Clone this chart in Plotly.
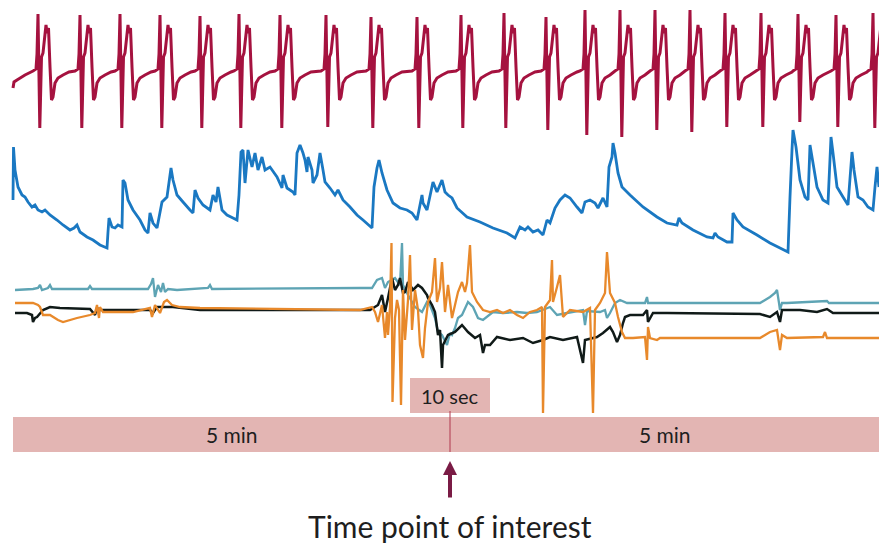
import plotly.graph_objects as go

# ---------------- DATA ----------------
# x values are sample indices of the recording (event / time point of interest at sample 450)
EVENT_SAMPLE = 450
WINDOW_START = 13
WINDOW_END = 887

# ECG: beat positions (sample index of R spike), per-beat R peak and S trough amplitude
ecg_beats = [39, 81, 121, 161, 201, 240, 281, 327, 372, 418, 462, 505, 547, 586,
             621, 656, 691, 726, 762, 799, 837, 874]
ecg_r_peak = [58, 57, 58, 57, 56, 58, 57, 57, 55, 55, 57, 59, 55, 62,
              62, 62, 62, 59, 59, 58, 57, 59]
ecg_s_trough = [-56, -56, -56, -56, -56, -56, -56, -55, -56, -56, -56, -56, -58, -63,
                -65, -58, -60, -55, -55, -50, -55, -56]
# beat waveform read from one complex (offset from R spike, amplitude); "R"/"S" = per-beat value
ecg_shape_dx = [-6, -3, -2, -1, 0.8, 2.5, 4, 7, 8, 9.5, 11, 12.5, 14, 16, 19, 24, 30]
ecg_shape_v = [1, 3, 18, "R", "S", 15, 19, 47, 39, 44, 5, -28, -25, -11, -6, -3, 0]
ecg_lead_x = [13, 14, 17, 25]
ecg_lead_v = [-16, -10, -8, -3]

# Calcium-like fluorescence trace (blue)
blue_x = [13, 13.5, 15, 18, 22, 25, 28, 32, 35, 38, 42, 45, 50, 57, 63, 70, 74, 77, 80, 87, 93, 100,
          107, 108, 109, 112, 115, 118, 122, 123, 125, 128, 133, 140, 145, 148, 150, 153, 157, 162,
          167, 171, 173, 177, 183, 190, 193, 195, 198, 203, 210, 213, 216, 218, 222, 227, 233, 237,
          239, 241, 243, 245, 248, 252, 255, 258, 262, 265, 270, 277, 282, 283, 287, 293, 295, 297,
          300, 303, 305, 307, 308, 312, 313, 317, 320, 323, 325, 330, 335, 338, 343, 350, 357, 363,
          372, 374, 377, 379, 382, 387, 393, 400, 407, 412, 417, 422, 423, 427, 433, 437, 442, 445,
          448, 452, 457, 467, 480, 493, 507, 515, 520, 525, 528, 533, 538, 543, 547, 550, 555, 560,
          565, 570, 577, 582, 585, 590, 595, 598, 603, 607, 609, 612, 613, 615, 618, 622, 630, 643,
          657, 667, 677, 679, 682, 693, 707, 713, 715, 718, 727, 732, 733, 737, 743, 757, 770, 780,
          788, 790, 792, 793, 796, 800, 805, 808, 810, 812, 817, 823, 828, 831, 833, 837, 843, 848,
          852, 854, 858, 863, 868, 873, 875, 877, 879]
blue_v = [50, 103, 80, 63, 55, 53, 48, 43, 45, 40, 38, 40, 35, 30, 25, 20, 22, 25, 18, 13, 10, 5,
          2, 18, 32, 23, 22, 25, 23, 70, 67, 50, 40, 30, 20, 17, 37, 27, 22, 48,
          53, 82, 70, 55, 48, 40, 37, 60, 52, 45, 40, 55, 48, 63, 40, 35, 32, 30,
          55, 98, 100, 67, 100, 83, 97, 80, 93, 80, 83, 73, 62, 75, 62, 58, 55, 97,
          105, 97, 90, 78, 93, 80, 67, 75, 97, 80, 68, 62, 55, 60, 50, 43, 35, 30,
          22, 63, 82, 90, 77, 60, 47, 42, 40, 37, 30, 55, 47, 40, 68, 58, 70, 58,
          55, 52, 42, 33, 28, 22, 17, 12, 23, 20, 23, 18, 20, 15, 30, 27, 42, 50,
          55, 52, 43, 37, 48, 50, 47, 42, 52, 43, 83, 93, 107, 97, 77, 63, 55, 43,
          33, 27, 25, 32, 27, 20, 13, 12, 17, 13, 8, 8, 37, 30, 23, 15, 7, 2,
          -2, 53, 100, 120, 103, 70, 53, 50, 105, 93, 63, 50, 47, 113, 97, 63, 53, 45,
          98, 80, 53, 50, 43, 40, 63, 83, 63]

# Movement / accelerometer channels
teal_x = [15, 33, 38, 40, 42, 48, 50, 52, 88, 90, 92, 148, 151, 153, 155, 158, 161, 163, 165, 168,
          177, 208, 210, 212, 360, 372, 377, 382, 385, 388, 395, 400, 402, 403, 408, 415, 422, 427,
          430, 435, 438, 442, 447, 450, 452, 455, 458, 462, 468, 473, 478, 483, 493, 503, 517, 527,
          537, 550, 557, 567, 583, 585, 587, 600, 605, 607, 610, 615, 620, 627, 645, 647, 648, 660,
          760, 770, 775, 777, 779, 780, 782, 787, 827, 829, 879]
teal_v = [20, 21, 22, 25, 20, 22, 25, 21, 21, 24, 21, 21, 26, 32, 13, 25, 18, 27, 18, 21,
          20, 22, 25, 21, 22, 22, 30, 32, 22, 28, 32, 25, 67, 25, 15, 3, -2, 8,
          5, -8, -22, -25, -35, -23, -25, -18, -8, -5, 8, 3, -8, -10, -2, -3, -2, -3,
          -2, 3, -5, -3, 0, -15, -1, -2, 0, -8, -3, 7, 10, 7, 7, 13, 7, 7,
          7, 13, 17, 20, 7, 0, 7, 7, 9, 7, 7]

black_x = [15, 27, 32, 33, 35, 37, 43, 50, 60, 90, 95, 97, 100, 150, 153, 157, 173, 200, 370, 378,
           382, 385, 388, 392, 395, 398, 400, 403, 405, 408, 413, 418, 422, 427, 428, 432, 435, 438,
           440, 442, 443, 448, 455, 462, 468, 475, 480, 483, 485, 490, 497, 510, 523, 533, 543, 550,
           563, 577, 583, 585, 597, 603, 610, 613, 617, 620, 623, 625, 630, 643, 647, 648, 653, 667,
           760, 770, 777, 780, 782, 800, 817, 827, 833, 879]
black_v = [-3, -3, -5, -12, -8, -7, 0, 3, 2, 1, -5, 2, 0, 0, -3, 3, 3, 0, 0, 5,
           15, -2, 12, 32, 20, 25, 32, 17, 18, 28, 20, 25, 22, 15, 12, 5, -2, -25,
           -20, -58, -35, -25, -22, -15, -22, -28, -25, -43, -35, -35, -27, -30, -28, -33, -30, -27,
           -30, -27, -53, -30, -27, -23, -17, -22, -32, -25, -13, -7, -5, -5, 0, -12, -3, -3,
           -4, -7, -2, -12, 0, 0, -2, 1, -3, -3]

orange_x = [15, 33, 38, 40, 43, 50, 58, 63, 77, 90, 95, 97, 99, 100, 103, 133, 150, 152, 155, 160,
            164, 167, 172, 180, 200, 360, 372, 375, 378, 382, 385, 387, 388, 390, 391.5, 392.5, 395,
            397, 399, 401, 403, 405, 408, 410, 412, 415, 418, 420, 423, 425, 428, 432, 435, 437, 440,
            442, 445, 448, 452, 455, 458, 462, 465, 467, 470, 472, 477, 483, 490, 497, 503, 510, 517,
            523, 530, 537, 542, 543, 545, 550, 552, 553, 557, 560, 563, 570, 583, 590, 593, 595, 600,
            605, 607, 610, 615, 618, 622, 625, 633, 645, 647, 648, 650, 657, 660, 760, 770, 777, 780,
            782, 787, 823, 825, 827, 879]
orange_v = [7, 7, 5, 3, -5, -5, -10, -12, -8, -5, -3, 5, -8, 3, -2, -2, 2, -7, 5, -3,
            8, 10, 5, 3, 2, 0, 3, -2, -12, 5, -28, -2, -25, 3, 67, -92, -8,
            10, 0, -95, 20, -30, 10, 55, -20, 20, 0, -35, -48, -18, 8, 18, 52, 8, 22,
            48, -2, 25, -8, 5, 18, 28, 18, 27, 65, 18, 8, 0, -2, 0, -3, 0, -5,
            -8, -2, 0, 3, -103, 3, 10, 50, 8, 23, 35, -7, 0, -2, 2, -103, 0, 7,
            17, 58, 17, 7, -7, -22, -28, -28, -27, -50, -17, -28, -30, -28, -28, -22, -20, -40,
            -25, -28, -27, -22, -28, -28]

bar_labels = ["5 min", "5 min"]
marker_label = "10 sec"
caption = "Time point of interest"

# ---------------- BUILD ECG ----------------
ecg_x = list(ecg_lead_x)
ecg_v = list(ecg_lead_v)
for i, b in enumerate(ecg_beats):
    nxt = ecg_beats[i + 1] if i + 1 < len(ecg_beats) else b + 40
    for dx, v in zip(ecg_shape_dx, ecg_shape_v):
        if b + dx >= nxt - 6:
            break
        if v == "R":
            v = ecg_r_peak[i]
        elif v == "S":
            v = ecg_s_trough[i]
        ecg_x.append(b + dx)
        ecg_v.append(v)

# ---------------- FIGURE ----------------
H = 543.0
FONT = "Lato, 'Open Sans', sans-serif"

fig = go.Figure()
fig.add_trace(go.Scatter(x=ecg_x, y=ecg_v, mode="lines", yaxis="y",
                         line=dict(color="#a5123f", width=3, simplify=False), hoverinfo="skip"))
fig.add_trace(go.Scatter(x=blue_x, y=blue_v, mode="lines", yaxis="y2",
                         line=dict(color="#1a78c2", width=2.8, simplify=False), hoverinfo="skip"))
fig.add_trace(go.Scatter(x=teal_x, y=teal_v, mode="lines", yaxis="y3",
                         line=dict(color="#5ea4b4", width=2.3, simplify=False), hoverinfo="skip"))
fig.add_trace(go.Scatter(x=black_x, y=black_v, mode="lines", yaxis="y3",
                         line=dict(color="#101a18", width=2.5, simplify=False), hoverinfo="skip"))
fig.add_trace(go.Scatter(x=orange_x, y=orange_v, mode="lines", yaxis="y3",
                         line=dict(color="#e8892b", width=2.3, simplify=False), hoverinfo="skip"))

def pf(px):
    return 1 - px / H

shapes = [
    dict(type="rect", xref="x", yref="paper", x0=WINDOW_START, x1=WINDOW_END,
         y0=pf(452), y1=pf(417), fillcolor="#e3b5b3", line=dict(width=0), layer="below"),
    dict(type="rect", xref="x", yref="paper", x0=EVENT_SAMPLE - 40, x1=EVENT_SAMPLE + 40,
         y0=pf(413), y1=pf(378), fillcolor="#e3b5b3", line=dict(width=0), layer="below"),
    dict(type="line", xref="x", yref="paper", x0=EVENT_SAMPLE, x1=EVENT_SAMPLE,
         y0=pf(452), y1=pf(411), line=dict(color="#b0384f", width=1)),
]

annotations = [
    dict(x=(WINDOW_START + EVENT_SAMPLE) / 2, y=pf(434.5), xref="x", yref="paper",
         yanchor="middle", xanchor="center",
         text=bar_labels[0], showarrow=False, font=dict(size=21, color="#1e1e1e", family=FONT)),
    dict(x=(EVENT_SAMPLE + 879) / 2, y=pf(434.5), xref="x", yref="paper",
         yanchor="middle", xanchor="center",
         text=bar_labels[1], showarrow=False, font=dict(size=21, color="#1e1e1e", family=FONT)),
    dict(x=EVENT_SAMPLE, y=pf(395.5), xref="x", yref="paper",
         yanchor="middle", xanchor="center",
         text=marker_label, showarrow=False, font=dict(size=20, color="#1e1e1e", family=FONT)),
    dict(x=EVENT_SAMPLE, y=pf(461), xref="x", yref="paper", text="", showarrow=True,
         ax=0, ay=38, arrowhead=2, arrowsize=0.7, arrowwidth=4, arrowcolor="#7a1b45"),
    dict(x=EVENT_SAMPLE, y=pf(526), xref="x", yref="paper",
         yanchor="middle", xanchor="center",
         text=caption, showarrow=False, font=dict(size=30, color="#1e1e1e", family=FONT)),
]

fig.update_layout(
    width=879, height=543,
    margin=dict(l=0, r=0, t=0, b=0),
    paper_bgcolor="white", plot_bgcolor="rgba(0,0,0,0)",
    showlegend=False,
    xaxis=dict(range=[0, 879], visible=False, fixedrange=True),
    yaxis=dict(domain=[pf(145), 1], range=[72 - 145, 72], visible=False, fixedrange=True),
    yaxis2=dict(domain=[pf(270), pf(110)], range=[-20, 140], visible=False, fixedrange=True,
                anchor="x"),
    yaxis3=dict(domain=[pf(420), pf(235)], range=[-110, 75], visible=False, fixedrange=True,
                anchor="x"),
    shapes=shapes,
    annotations=annotations,
)

fig.write_html("out.html", config={"staticPlot": True},
               post_script="document.body.style.margin='0';document.body.style.overflow='hidden';")
